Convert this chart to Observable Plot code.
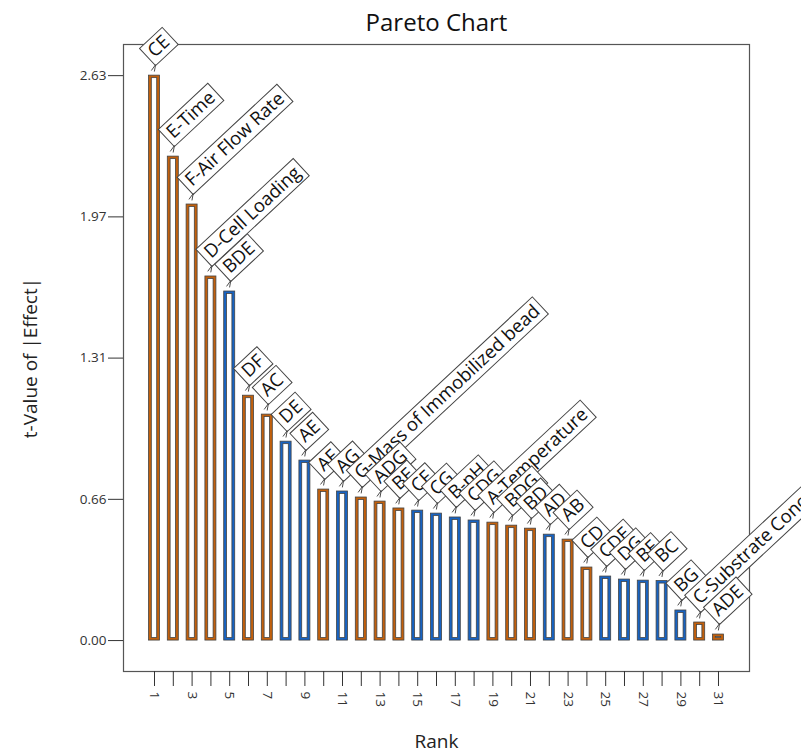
<!DOCTYPE html>
<html><head><meta charset="utf-8">
<script src="https://cdn.jsdelivr.net/npm/d3@7"></script>
<script src="https://cdn.jsdelivr.net/npm/@observablehq/plot@0.6"></script>
<style>body{margin:0;background:#fff;} #c{width:801px;height:755px;overflow:hidden;}</style>
</head><body><div id="c"></div>
<script>
// ---- data ----
const ranks = [1,2,3,4,5,6,7,8,9,10,11,12,13,14,15,16,17,18,19,20,21,22,23,24,25,26,27,28,29,30,31];
const terms = ["CE","E-Time","F-Air Flow Rate","D-Cell Loading","BDE","DF","AC","DE","AE","AF","AG",
  "G-Mass of Immobilized bead","ADG","BE","CF","CG","B-pH","CDG","A-Temperature","BDG","BD","AD","AB",
  "CD","CDE","DG","BF","BC","BG","C-Substrate Concentration","ADE"];
const tValues = [2.63,2.253,2.03,1.695,1.625,1.14,1.052,0.926,0.838,0.703,0.694,
  0.666,0.647,0.615,0.605,0.591,0.573,0.559,0.549,0.535,0.521,0.493,0.470,
  0.340,0.298,0.284,0.279,0.277,0.140,0.084,0.028];
const effectSign = ["+","+","+","+","-","+","+","-","-","+","-",
  "+","+","+","-","-","-","-","+","+","+","-","+",
  "+","-","-","-","-","-","+","+"];
const yTicks = [0, 0.6575, 1.315, 1.9725, 2.63];
const yTickLabels = ["0.00","0.66","1.31","1.97","2.63"];
const xTickLabelRanks = [1,3,5,7,9,11,13,15,17,19,21,23,25,27,29,31];
const signColors = {"+": "#c2600c", "-": "#1763c2"};

const data = ranks.map((r, i) => ({rank: r, term: terms[i], t: tValues[i], sign: effectSign[i]}));
const font = "'Open Sans', 'Noto Sans', sans-serif";

const chart = Plot.plot({
  width: 801, height: 755,
  marginLeft: 123, marginRight: 52, marginTop: 44, marginBottom: 84,
  style: {fontFamily: font, background: "#fff", overflow: "hidden"},
  x: {type: "band", domain: ranks, paddingInner: 0.415, paddingOuter: 1.357, align: 0.5, round: false},
  y: {domain: [-0.144, 2.775]},
  color: {domain: ["+", "-"], range: [signColors["+"], signColors["-"]]},
  marks: [
    Plot.frame({stroke: "#555", strokeWidth: 1.2}),
    Plot.axisY({ticks: yTicks, tickFormat: d => yTickLabels[yTicks.indexOf(d)], tickSize: 15, tickPadding: 2,
      fontSize: 13.5, color: "#333", label: null}),
    Plot.axisX({ticks: ranks, tickFormat: d => xTickLabelRanks.includes(d) ? String(d) : "",
      tickSize: 15, tickPadding: 5, tickRotate: 90, fontSize: 13.5, color: "#333", label: null}),
    Plot.barY(data, {x: "rank", y: "t", fill: "sign", stroke: "#444", strokeWidth: 0.8}),
    Plot.barY(data, {x: "rank", y: "t", fill: "white", stroke: "#444", strokeWidth: 0.8,
      insetLeft: 2.8, insetRight: 2.8, insetTop: 2.5, insetBottom: 2.5}),
    Plot.text(data, {x: "rank", y: "t", text: "term", rotate: -43, textAnchor: "start", fontSize: 18.5,
      fill: "#111", ariaDescription: "effect-labels"}),
    Plot.text(["Pareto Chart"], {frameAnchor: "top", dy: -21, fontSize: 24, fill: "#111",
      textAnchor: "middle", lineAnchor: "middle"}),
    Plot.text(["t-Value of |Effect|"], {frameAnchor: "left", dx: -93, rotate: -90, fontSize: 19, fill: "#222",
      textAnchor: "middle", lineAnchor: "middle"}),
    Plot.text(["Rank"], {frameAnchor: "bottom", dy: 70, fontSize: 19, fill: "#222",
      textAnchor: "middle", lineAnchor: "middle"})
  ]
});
document.getElementById("c").append(chart);

// ---- callout boxes around the effect labels ----
const NS = "http://www.w3.org/2000/svg";
let g = chart.querySelector('g[aria-description="effect-labels"]');
if (!g) {
  g = Array.from(chart.querySelectorAll("g")).find(el => el.querySelectorAll(":scope > text").length === terms.length);
}
if (g) {
  const cx = 7.6, cy = -6.6, padX = 4.5, H = 23.5;
  for (const t of Array.from(g.querySelectorAll("text"))) {
    const tr = t.getAttribute("transform");
    t.removeAttribute("dy");
    t.setAttribute("x", cx + padX);
    t.setAttribute("y", cy - 6);
    const w = t.getComputedTextLength();
    const rect = document.createElementNS(NS, "rect");
    rect.setAttribute("transform", tr);
    rect.setAttribute("x", cx);
    rect.setAttribute("y", cy - H);
    rect.setAttribute("width", w + 2 * padX);
    rect.setAttribute("height", H);
    rect.setAttribute("fill", "#fff");
    rect.setAttribute("stroke", "#444");
    rect.setAttribute("stroke-width", "1");
    const p = document.createElementNS(NS, "path");
    p.setAttribute("transform", tr);
    p.setAttribute("d", `M${cx - 6.4},${cy + 0.7}L${cx + 0.7},${cy - 0.7}L${cx - 4.9},${cy + 3.5}`);
    p.setAttribute("fill", "none");
    p.setAttribute("stroke", "#444");
    p.setAttribute("stroke-width", "0.9");
    g.insertBefore(rect, t);
    g.insertBefore(p, t);
  }
}
</script>
</body></html>
